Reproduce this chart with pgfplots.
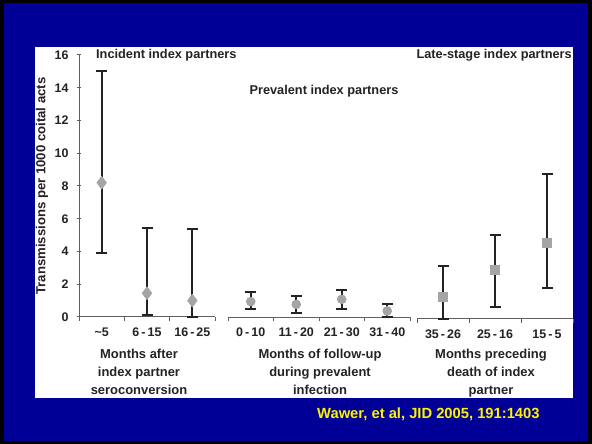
\documentclass[border=0pt]{standalone}
\usepackage{pgfplots}
\pgfplotsset{compat=1.18}
\usepackage{fontspec}
\setmainfont{Liberation Sans}
\definecolor{slideblue}{RGB}{0,0,150}
\definecolor{mk}{RGB}{165,165,165}
\definecolor{ink}{RGB}{35,35,35}
\definecolor{axl}{RGB}{95,95,95}
\pgfplotsset{
  grp/.style={
    scale only axis, height=262bp, ymin=0, ymax=16, xmin=0,
    axis x line=bottom,
    axis line style={-, draw=axl, line width=1bp},
    x axis line style={-},
    tick align=outside,
    major tick length=4bp,
    tick style={draw=axl, line width=1bp},
    xticklabels={,,,,},
    extra x tick style={major tick length=0pt, tick style={draw=none}},
    x tick label style={font=\fontsize{12.5}{14}\selectfont\bfseries, text=ink, yshift=-7bp},
    /pgf/number format/assume math mode=true,
    clip=false,
  },
  ebars/.style={
    error bars/.cd, y dir=both, y explicit,
    error bar style={ink, line width=2bp},
    error mark options={ink, line width=2bp, mark size=5.5bp, rotate=90},
  },
}
\begin{document}
\begin{tikzpicture}[x=1bp,y=1bp]
\useasboundingbox (0,0) rectangle (592,444);
\fill[black] (0,0) rectangle (592,444);
\fill[slideblue] (4,3) rectangle (588,441);
\fill[white] (35,46) rectangle (573,397);

% group 1: incident
\begin{axis}[grp, at={(79bp,127bp)}, anchor=south west, width=136bp, xmax=3,
  axis y line=left, y axis line style={-},
  xtick={0,1,2,3},
  extra x ticks={0.5,1.5,2.5},
  extra x tick labels={\textasciitilde5, 6\,-\,15, 16\,-\,25},
  ytick={0,2,...,16},
  y tick label style={font=\fontsize{12.5}{14}\selectfont\bfseries, text=ink, xshift=-5bp},
]
\addplot[draw=none, mark=diamond*, mark size=6.3bp, mark options={fill=mk, draw=mk}, ebars]
  coordinates {(0.5,8.2) += (0,6.8) -= (0,4.3)
               (1.5,1.45) += (0,3.97) -= (0,1.33)
               (2.5,1.0) += (0,4.35) -= (0,1.0)};
\addplot[draw=none, mark=diamond*, mark size=6.3bp, mark options={fill=mk, draw=mk}]
  coordinates {(0.5,8.2) (1.5,1.45) (2.5,1.0)};
\end{axis}

% group 2: prevalent
\begin{axis}[grp, at={(228bp,126.5bp)}, anchor=south west, width=182bp, xmax=4,
  axis y line=none,
  xtick={0,1,2,3,4},
  extra x ticks={0.5,1.5,2.5,3.5},
  extra x tick labels={0\,-\,10, 11\,-\,20, 21\,-\,30, 31\,-\,40},
]
\addplot[draw=none, mark=*, mark size=4.4bp, mark options={fill=mk, draw=mk}, ebars]
  coordinates {(0.5,0.97) += (0,0.61) -= (0,0.45)
               (1.5,0.80) += (0,0.51) -= (0,0.54)
               (2.5,1.11) += (0,0.57) -= (0,0.59)
               (3.5,0.40) += (0,0.42) -= (0,0.39)};
\addplot[draw=none, mark=*, mark size=4.4bp, mark options={fill=mk, draw=mk}]
  coordinates {(0.5,0.97) (1.5,0.80) (2.5,1.11) (3.5,0.40)};
\end{axis}

% group 3: late-stage
\begin{axis}[grp, at={(417bp,125bp)}, anchor=south west, width=156bp, xmax=3,
  axis y line=none,
  xtick={0,1,2,3},
  extra x ticks={0.5,1.5,2.5},
  extra x tick labels={35\,-\,26, 25\,-\,16, 15\,-\,5},
]
\addplot[draw=none, mark=square*, mark size=4.6bp, mark options={fill=mk, draw=mk}, ebars]
  coordinates {(0.5,1.36) += (0,1.88) -= (0,1.36)
               (1.5,2.99) += (0,2.12) -= (0,2.24)
               (2.5,4.66) += (0,4.19) -= (0,2.77)};
\addplot[draw=none, mark=square*, mark size=4.6bp, mark options={fill=mk, draw=mk}]
  coordinates {(0.5,1.36) (1.5,2.99) (2.5,4.66)};
\end{axis}

% titles
\begin{scope}[every node/.style={font=\fontsize{12.8}{15}\selectfont\bfseries, text=ink, inner sep=0pt}]
\node[anchor=west] at (96,389) {Incident index partners};
\node[anchor=east] at (572,389) {Late-stage index partners};
\node at (324,353) {Prevalent index partners};
\node[rotate=90, font=\fontsize{13.2}{15}\selectfont\bfseries] at (42,258) {Transmissions per 1000 coital acts};
\end{scope}
\begin{scope}[every node/.style={font=\fontsize{13}{18}\selectfont\bfseries, text=ink, inner sep=0pt, align=center, anchor=north}]
\node at (139,95) {Months after\\index partner\\seroconversion};
\node at (320,95) {Months of follow-up\\during prevalent\\infection};
\node at (491,95) {Months preceding\\death of index\\partner};
\end{scope}
\node[anchor=west, inner sep=0pt, font=\fontsize{14.8}{17}\selectfont\bfseries, text=yellow] at (317,30) {Wawer, et al, JID 2005, 191:1403};
\end{tikzpicture}
\end{document}
